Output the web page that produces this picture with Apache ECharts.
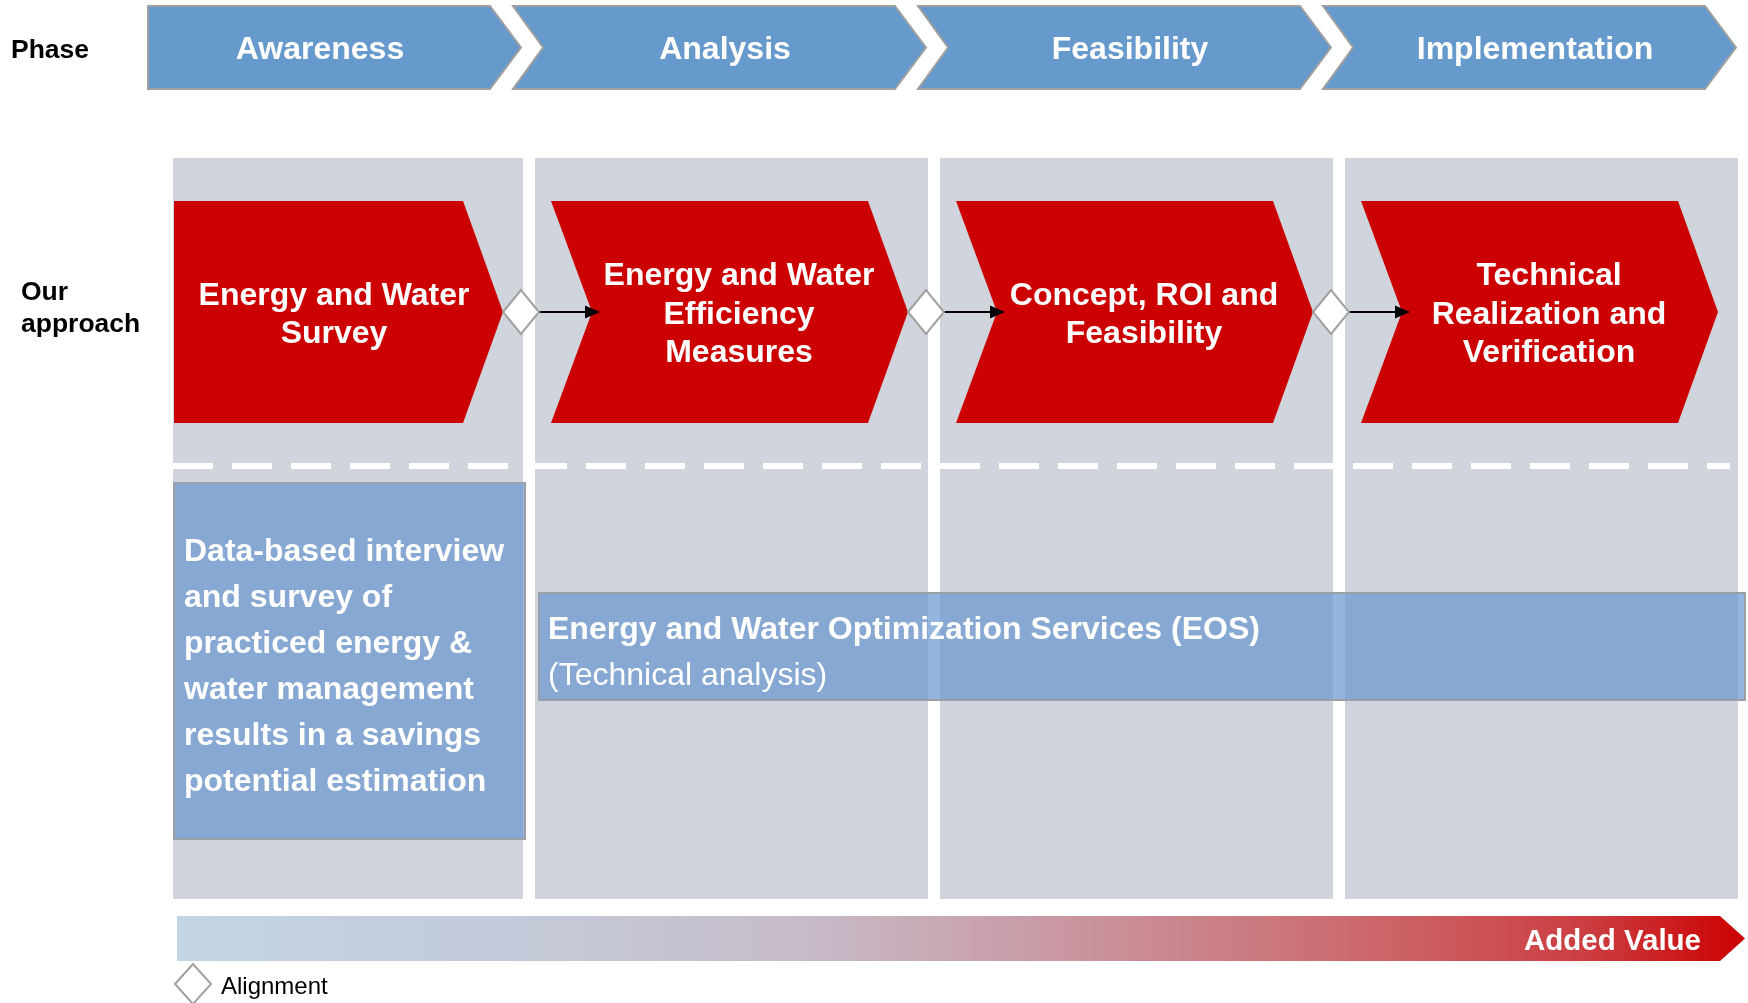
<!DOCTYPE html>
<html>
<head>
<meta charset="utf-8">
<script src="https://cdn.jsdelivr.net/npm/echarts@6/dist/echarts.min.js"></script>
<style>
html,body{margin:0;padding:0;background:#ffffff;}
#chart{width:1748px;height:1003px;}
</style>
</head>
<body>
<div id="chart"></div>
<script>
// ---------------- data ----------------
const phases = ['Awareness', 'Analysis', 'Feasibility', 'Implementation'];
const approachSteps = [
  'Energy and Water\nSurvey',
  'Energy and Water\nEfficiency\nMeasures',
  'Concept, ROI and\nFeasibility',
  'Technical\nRealization and\nVerification'
];
const alignmentGates = [0, 1, 2];          // gate after step index
const surveyPhases = [0, 0];               // first / last phase covered
const surveyLines = [
  'Data-based interview',
  'and survey of',
  'practiced energy &',
  'water management',
  'results in a savings',
  'potential estimation'
];
const eosPhases = [1, 3];                  // first / last phase covered
const eosTitle = 'Energy and Water Optimization Services (EOS)';
const eosSubtitle = '(Technical analysis)';
const valuePhases = [0, 3];
const valueLabel = 'Added Value';
const rowLabels = ['Phase', 'Our\napproach'];
const legendLabel = 'Alignment';

// ---------------- layout / style (not data) ----------------
const FONT = '"Liberation Sans", Arial, Helvetica, sans-serif';
const L = {
  headTop: 6, headBot: 89,
  colTop: 158, colBot: 899,
  stepTop: 201, stepBot: 423,
  dashY: 466,
  surveyTop: 483, surveyBot: 839,
  eosTop: 593, eosBot: 700,
  valTop: 916, valBot: 961
};
const C = {
  phase: '#6699CC', phaseLine: '#A0A0A0',
  column: '#D0D4DC',
  red: '#CC0000',
  box: 'rgba(102,150,207,0.70)', boxLine: '#9C9FA6',
  gate: '#FFFFFF', gateLine: '#A0A0A0'
};

const chart = echarts.init(document.getElementById('chart'), null, {renderer: 'canvas'});

function band(api, i) {
  const c = api.coord([i, 0])[0];
  const w = api.size([1, 0])[0];
  return {s: c - w / 2, e: c + w / 2, c: c, w: w};
}
function Y(api, v) { return api.coord([0, v])[1]; }
function colX(b, i) { return [i === 0 ? b.s + 65 : b.s + 22, b.e + 10]; }
function stepX(b, i) {
  const tip = b.s + 395;
  const left = i === 0 ? b.s + 66 : b.s + 38;
  return {left: left, notch: i === 0 ? left : left + 41, body: tip - 40, tip: tip};
}

const option = {
  animation: false,
  grid: {left: 108, right: 20, top: 0, bottom: 0, containLabel: false},
  xAxis: {type: 'category', data: phases, show: false, boundaryGap: true},
  yAxis: {type: 'value', min: 0, max: 1003, inverse: true, show: false},
  graphic: [
    {type: 'text', left: 11, top: 37, silent: true,
     style: {text: rowLabels[0], fill: '#000', font: 'bold 26.5px ' + FONT}},
    {type: 'text', left: 21, top: 277, silent: true,
     style: {text: rowLabels[1], fill: '#000', font: 'bold 26.5px ' + FONT, lineHeight: 32}},
    {type: 'polygon', silent: true,
     shape: {points: [[175, 984], [193, 964], [211, 984], [193, 1004]]},
     style: {fill: C.gate, stroke: C.gateLine, lineWidth: 2}},
    {type: 'text', left: 221, top: 975, silent: true,
     style: {text: legendLabel, fill: '#000', font: '24px ' + FONT}}
  ],
  series: [
    // phase header chevrons
    {
      type: 'custom', z: 2, clip: false, silent: true,
      data: phases.map((p, i) => [i, 0]),
      renderItem(params, api) {
        const i = api.value(0), b = band(api, i);
        const left = i === 0 ? b.s + 40 : b.s;
        const notch = i === 0 ? left : left + 30;
        const body = b.e - 23, tip = b.e + 8;
        const t = Y(api, L.headTop), bo = Y(api, L.headBot), m = (t + bo) / 2;
        return {type: 'group', children: [
          {type: 'polygon', shape: {points: [[left, t], [body, t], [tip, m], [body, bo], [left, bo], [notch, m]]},
           style: {fill: C.phase, stroke: C.phaseLine, lineWidth: 2}},
          {type: 'text', style: {text: phases[i], x: b.s + 212, y: m + 3, fill: '#fff',
            font: 'bold 32px ' + FONT, align: 'center', verticalAlign: 'middle'}}
        ]};
      }
    },
    // grey phase columns
    {
      type: 'custom', z: 1, clip: false, silent: true,
      data: phases.map((p, i) => [i, 0]),
      renderItem(params, api) {
        const i = api.value(0), b = band(api, i), x = colX(b, i);
        const t = Y(api, L.colTop), bo = Y(api, L.colBot);
        return {type: 'rect', shape: {x: x[0], y: t, width: x[1] - x[0], height: bo - t},
                style: {fill: C.column}};
      }
    },
    // dashed separator
    {
      type: 'custom', z: 3, clip: false, silent: true,
      data: [[0, 3]],
      renderItem(params, api) {
        const b0 = band(api, api.value(0)), b1 = band(api, api.value(1));
        const y = Y(api, L.dashY);
        return {type: 'line', shape: {x1: colX(b0, 0)[0], y1: y, x2: stepX(b1, 3).tip + 12, y2: y},
                style: {stroke: '#FFFFFF', lineWidth: 6, lineDash: [40, 19]}};
      }
    },
    // red approach chevrons
    {
      type: 'custom', z: 4, clip: false, silent: true,
      data: approachSteps.map((s, i) => [i, 0]),
      renderItem(params, api) {
        const i = api.value(0), b = band(api, i), s = stepX(b, i);
        const t = Y(api, L.stepTop), bo = Y(api, L.stepBot), m = (t + bo) / 2;
        return {type: 'group', children: [
          {type: 'polygon', shape: {points: [[s.left, t], [s.body, t], [s.tip, m], [s.body, bo], [s.left, bo], [s.notch, m]]},
           style: {fill: C.red}},
          {type: 'text', style: {text: approachSteps[i], x: b.s + 226, y: m + 3, fill: '#fff',
            font: 'bold 32px ' + FONT, align: 'center', verticalAlign: 'middle', lineHeight: 38.5}}
        ]};
      }
    },
    // alignment gates + arrows
    {
      type: 'custom', z: 5, clip: false, silent: true,
      data: alignmentGates.map(g => [g, 0]),
      renderItem(params, api) {
        const i = api.value(0), b = band(api, i), nb = band(api, i + 1);
        const s = stepX(b, i), ns = stepX(nb, i + 1);
        const m = (Y(api, L.stepTop) + Y(api, L.stepBot)) / 2;
        const cx = s.tip + 18, hw = 18, hh = 22;
        const ax = ns.notch + 8;
        return {type: 'group', children: [
          {type: 'line', shape: {x1: cx + hw, y1: m, x2: ax - 13, y2: m}, style: {stroke: '#000', lineWidth: 2}},
          {type: 'polygon', shape: {points: [[ax - 15, m - 6.5], [ax, m], [ax - 15, m + 6.5]]}, style: {fill: '#000'}},
          {type: 'polygon', shape: {points: [[cx - hw, m], [cx, m - hh], [cx + hw, m], [cx, m + hh]]},
           style: {fill: C.gate, stroke: C.gateLine, lineWidth: 2}}
        ]};
      }
    },
    // survey box
    {
      type: 'custom', z: 6, clip: false, silent: true,
      data: [surveyPhases],
      renderItem(params, api) {
        const i0 = api.value(0), i1 = api.value(1);
        const x0 = colX(band(api, i0), i0)[0] + 1, x1 = colX(band(api, i1), i1)[1] + 2;
        const t = Y(api, L.surveyTop), bo = Y(api, L.surveyBot);
        return {type: 'group', children: [
          {type: 'rect', shape: {x: x0, y: t, width: x1 - x0, height: bo - t},
           style: {fill: C.box, stroke: C.boxLine, lineWidth: 2}},
          {type: 'text', style: {text: surveyLines.join('\n'), x: x0 + 10, y: (t + bo) / 2 + 6, fill: '#fff',
            font: 'bold 32px ' + FONT, align: 'left', verticalAlign: 'middle', lineHeight: 46}}
        ]};
      }
    },
    // EOS bar
    {
      type: 'custom', z: 6, clip: false, silent: true,
      data: [eosPhases],
      renderItem(params, api) {
        const i0 = api.value(0), i1 = api.value(1);
        const x0 = colX(band(api, i0), i0)[0] + 4, x1 = colX(band(api, i1), i1)[1] + 7;
        const t = Y(api, L.eosTop), bo = Y(api, L.eosBot);
        return {type: 'group', children: [
          {type: 'rect', shape: {x: x0, y: t, width: x1 - x0, height: bo - t},
           style: {fill: C.box, stroke: C.boxLine, lineWidth: 2}},
          {type: 'text', style: {text: eosTitle, x: x0 + 9, y: t + 37, fill: '#fff',
            font: 'bold 32px ' + FONT, align: 'left', verticalAlign: 'middle'}},
          {type: 'text', style: {text: eosSubtitle, x: x0 + 9, y: t + 83, fill: '#fff',
            font: '32px ' + FONT, align: 'left', verticalAlign: 'middle'}}
        ]};
      }
    },
    // added value gradient arrow
    {
      type: 'custom', z: 6, clip: false, silent: true,
      data: [valuePhases],
      renderItem(params, api) {
        const i0 = api.value(0), i1 = api.value(1);
        const b1 = band(api, i1);
        const x0 = colX(band(api, i0), i0)[0] + 4;
        const body = b1.e - 8, tip = b1.e + 17;
        const t = Y(api, L.valTop), bo = Y(api, L.valBot), m = (t + bo) / 2;
        return {type: 'group', children: [
          {type: 'polygon', shape: {points: [[x0, t], [body, t], [tip, m], [body, bo], [x0, bo]]},
           style: {fill: new echarts.graphic.LinearGradient(0, 0, 1, 0, [
             {offset: 0, color: '#C3D5E3'},
             {offset: 0.25, color: '#C4C8D7'},
             {offset: 0.4, color: '#C7BBC8'},
             {offset: 0.5, color: '#C8A6B2'},
             {offset: 0.6, color: '#CA8F98'},
             {offset: 0.7, color: '#CB777C'},
             {offset: 0.8, color: '#CC5C60'},
             {offset: 0.9, color: '#CB3D41'},
             {offset: 1, color: '#CC0000'}
           ])}},
          {type: 'text', style: {text: valueLabel, x: body - 19, y: m + 3, fill: '#fff',
            font: 'bold 29.5px ' + FONT, align: 'right', verticalAlign: 'middle'}}
        ]};
      }
    }
  ]
};
chart.setOption(option);
</script>
</body>
</html>
